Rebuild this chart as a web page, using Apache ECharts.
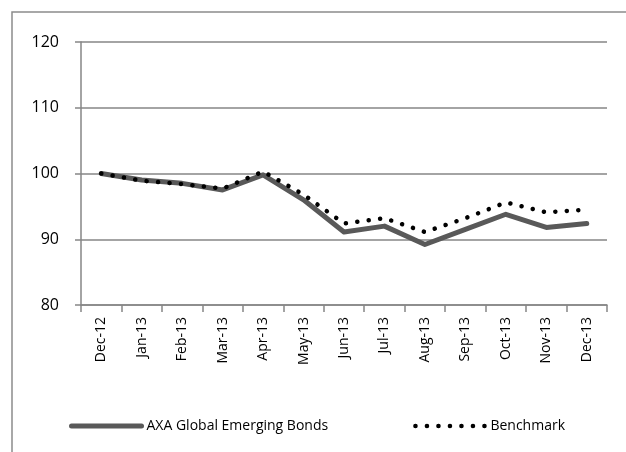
<!DOCTYPE html>
<html>
<head>
<meta charset="utf-8">
<script src="https://cdn.jsdelivr.net/npm/echarts@6/dist/echarts.min.js"></script>
<style>
  html, body { margin: 0; padding: 0; background: #fff; }
  #chart { width: 626px; height: 452px; }
</style>
</head>
<body>
<div id="chart"></div>
<script>
// months on the category axis
const months = ['Dec-12', 'Jan-13', 'Feb-13', 'Mar-13', 'Apr-13', 'May-13', 'Jun-13',
  'Jul-13', 'Aug-13', 'Sep-13', 'Oct-13', 'Nov-13', 'Dec-13']
// fund values (rebased to 100)
const fundValues = [100, 99.0, 98.5, 97.5, 99.8, 96.0, 91.1, 92.0, 89.2, 91.5, 93.8, 91.8, 92.4]
// benchmark values
const benchValues = [100, 98.9, 98.4, 97.7, 100.3, 96.8, 92.4, 93.2, 91.1, 93.2, 95.6, 94.1, 94.5]
const fundName = 'AXA Global Emerging Bonds'
const benchName = 'Benchmark'

const font = 'Open Sans'
const fundStyle = { color: '#595959', width: 5, cap: 'round', join: 'round' }
const benchStyle = { color: '#000', width: 4.5, type: [0.1, 11.4], cap: 'round', join: 'round' }
const chart = echarts.init(document.getElementById('chart'))

const option = {
  animation: false,
  backgroundColor: '#fff',
  graphic: [{
    // outer chart border (only top & left are inside the picture)
    type: 'rect',
    shape: { x: 12, y: 12, width: 700, height: 500 },
    style: { fill: 'none', stroke: '#8c8c8c', lineWidth: 1.5 },
    silent: true
  }],
  grid: { left: 81, right: 19, top: 42, bottom: 147 },
  legend: {
    top: 414,
    left: 64,
    orient: 'horizontal',
    itemWidth: 70,
    itemHeight: 14,
    itemGap: 85,
    itemStyle: { opacity: 0 },
    textStyle: { fontFamily: font, fontSize: 14, color: '#000' },
    data: [
      { name: fundName, lineStyle: fundStyle },
      { name: benchName, lineStyle: benchStyle }
    ]
  },
  xAxis: {
    type: 'category',
    data: months,
    boundaryGap: true,
    axisLine: { lineStyle: { color: '#868686', width: 1.5 } },
    axisTick: { show: true, length: 7, lineStyle: { color: '#868686', width: 1.5 } },
    axisLabel: { rotate: 90, fontFamily: font, fontSize: 14, color: '#000', margin: 12, interval: 0 }
  },
  yAxis: {
    type: 'value',
    min: 80,
    max: 120,
    interval: 10,
    axisLine: { show: true, lineStyle: { color: '#868686', width: 1.5 } },
    axisTick: { show: true, length: 6, lineStyle: { color: '#868686', width: 1.5 } },
    splitLine: { lineStyle: { color: '#868686', width: 1.5 } },
    axisLabel: { fontFamily: font, fontSize: 16, color: '#000', margin: 22 }
  },
  series: [
    {
      name: fundName,
      type: 'line',
      data: fundValues,
      symbol: 'none',
      lineStyle: fundStyle,
      itemStyle: { color: '#595959' }
    },
    {
      name: benchName,
      type: 'line',
      data: benchValues,
      symbol: 'none',
      lineStyle: benchStyle,
      itemStyle: { color: '#000' }
    }
  ]
}

chart.setOption(option)
</script>
</body>
</html>
